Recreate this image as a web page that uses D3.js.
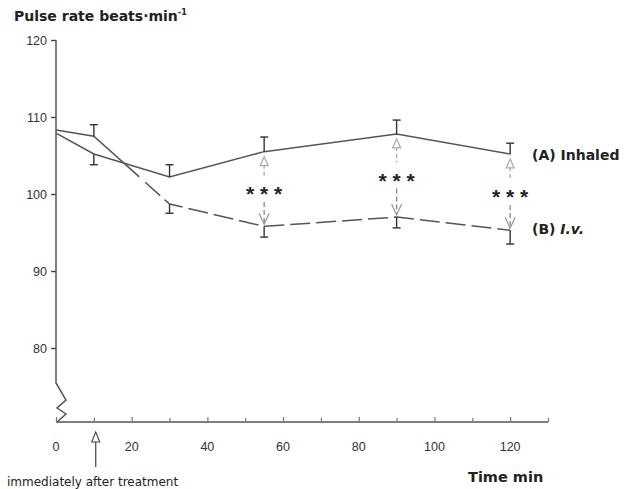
<!DOCTYPE html>
<html>
<head>
<meta charset="utf-8">
<script src="https://cdn.jsdelivr.net/npm/d3@7"></script>
<style>
  html, body { margin: 0; padding: 0; background: #fff; }
  svg { display: block; font-family: "Liberation Sans", Arial, Helvetica, sans-serif; }
  .bold { font-family: "DejaVu Sans", sans-serif; font-weight: bold; }
</style>
</head>
<body>
<svg id="chart" width="633" height="489"></svg>
<script>
// ---- data ----
const times = [0, 10, 30, 55, 90, 120];
const inhaled = [107.9, 105.2, 102.2, 105.5, 107.8, 105.2];
const inhaledSE = [0, 1.4, 1.6, 1.9, 1.8, 1.4];
const inhaledSEdir = [0, -1, 1, 1, 1, 1];
const iv = [108.3, 107.5, 98.7, 95.8, 97.0, 95.3];
const ivSE = [0, 1.5, 1.2, 1.4, 1.4, 1.8];
const ivSEdir = [0, 1, -1, -1, -1, -1];
const sigTimes = [55, 90, 120];
const sigLabel = "***";
const yTicks = [80, 90, 100, 110, 120];
const xTicksMajor = [0, 20, 40, 60, 80, 100, 120];
const xTicksMinor = [10, 30, 50, 70, 90, 110, 130];
const treatmentTime = 10.5;

const svg = d3.select("#chart");
const x = d3.scaleLinear().domain([0, 130]).range([56, 548]);
const y = d3.scaleLinear().domain([80, 120]).range([348, 40]);
const axisY = 422;
const lineCol = "#555";

// ---- Y axis ----
const yAxis = d3.axisLeft(y).tickValues(yTicks).tickSize(5).tickPadding(4);
const gy = svg.append("g").attr("transform", `translate(${x(0)},0)`).call(yAxis);
gy.select(".domain").remove();
gy.selectAll(".tick line").attr("stroke", "#444").attr("stroke-width", 1.4);
gy.selectAll(".tick text").attr("font-size", 12.5).attr("fill", "#333");

// axis line with break zigzag
const x0 = x(0);
svg.append("path")
  .attr("d", `M${x0},${y(120)}L${x0},383L${x0+10},400L${x0+1},408L${x0+10},414L${x0+1},${axisY}`)
  .attr("fill", "none").attr("stroke", "#555").attr("stroke-width", 1.5);

// ---- X axis ----
const xAxis = d3.axisTop(x).tickValues(xTicksMajor).tickSize(5).tickFormat(() => "");
const gx = svg.append("g").attr("transform", `translate(0,${axisY})`).call(xAxis);
gx.select(".domain").attr("stroke", "#555").attr("stroke-width", 1.5).attr("d", `M${x(0)},0H${x(130)}`);
gx.selectAll(".tick line").attr("stroke", "#777").attr("stroke-width", 1.2);
const xAxisMinor = d3.axisTop(x).tickValues(xTicksMinor).tickSize(4).tickFormat(() => "");
const gx2 = svg.append("g").attr("transform", `translate(0,${axisY})`).call(xAxisMinor);
gx2.select(".domain").remove();
gx2.selectAll(".tick line").attr("stroke", "#777").attr("stroke-width", 1.2);
svg.append("g").selectAll("text").data(xTicksMajor).join("text")
  .attr("x", d => x(d)).attr("y", 451)
  .attr("text-anchor", "middle").attr("font-size", 12.5).attr("fill", "#333")
  .text(d => d);

// ---- lines ----
const pts = (vals) => times.map((t, i) => [x(t), y(vals[i])]);
const lineGen = d3.line();
const aPts = pts(inhaled), bPts = pts(iv);

svg.append("path").attr("d", lineGen(aPts))
  .attr("fill", "none").attr("stroke", lineCol).attr("stroke-width", 1.5);

// B: solid start, then long dashes
let soloLen = 0;
{
  const [p0, p1, p2] = bPts;
  soloLen += Math.hypot(p1[0]-p0[0], p1[1]-p0[1]);
  const seg = Math.hypot(p2[0]-p1[0], p2[1]-p1[1]);
  soloLen += seg * 0.6;
}
const dashes = [soloLen.toFixed(1), 8];
for (let i = 0; i < 40; i++) dashes.push(20, 6);
svg.append("path").attr("d", lineGen(bPts))
  .attr("fill", "none").attr("stroke", lineCol).attr("stroke-width", 1.5)
  .attr("stroke-dasharray", dashes.join(","));

// ---- error bars ----
function errBars(vals, se, dir) {
  const g = svg.append("g").attr("stroke", "#333").attr("stroke-width", 1.4);
  times.forEach((t, i) => {
    if (!se[i]) return;
    const cx = x(t), y1 = y(vals[i]), y2 = y(vals[i] + dir[i] * se[i]);
    g.append("line").attr("x1", cx).attr("x2", cx).attr("y1", y1).attr("y2", y2);
    g.append("line").attr("x1", cx - 4).attr("x2", cx + 4).attr("y1", y2).attr("y2", y2);
  });
}
errBars(inhaled, inhaledSE, inhaledSEdir);
errBars(iv, ivSE, ivSEdir);

// ---- significance arrows ----
sigTimes.forEach(t => {
  const i = times.indexOf(t);
  const cx = x(t);
  const ya = y(inhaled[i]), yb = y(iv[i]);
  const mid = (ya + yb) / 2;
  const g = svg.append("g");
  // up arrow (to A)
  const tipA = ya + 5;
  g.append("line").attr("x1", cx).attr("x2", cx).attr("y1", tipA + 8).attr("y2", mid - 13)
    .attr("stroke", "#aaa").attr("stroke-width", 1.3).attr("stroke-dasharray", "4,3");
  g.append("path").attr("d", `M${cx},${tipA}L${cx-4},${tipA+9}L${cx+4},${tipA+9}Z`)
    .attr("fill", "#fff").attr("stroke", "#aaa").attr("stroke-width", 1.2);
  // down arrow (to B)
  const tipB = yb - 2;
  g.append("line").attr("x1", cx).attr("x2", cx).attr("y1", mid + 13).attr("y2", tipB)
    .attr("stroke", "#888").attr("stroke-width", 1.3).attr("stroke-dasharray", "5,3");
  g.append("path").attr("d", `M${cx-5},${tipB-11}L${cx},${tipB}L${cx+5},${tipB-11}`)
    .attr("fill", "none").attr("stroke", "#999").attr("stroke-width", 1.2);
  // stars
  g.append("text").attr("x", cx).attr("y", mid + 12)
    .attr("text-anchor", "middle").attr("font-size", 21).attr("font-weight", "bold")
    .attr("fill", "#222").text(sigLabel.split("").join(" "));
});

// ---- labels ----
svg.append("text").attr("class", "bold").attr("x", 532).attr("y", y(inhaled[5]) + 6)
  .attr("font-size", 14).attr("fill", "#222")
  .text("(A) Inhaled");
const lb = svg.append("text").attr("class", "bold").attr("x", 532).attr("y", y(iv[5]) + 4)
  .attr("font-size", 14).attr("fill", "#222");
lb.append("tspan").text("(B) ");
lb.append("tspan").attr("font-style", "italic").text("I.v.");

const title = svg.append("text").attr("class", "bold").attr("x", 14).attr("y", 21)
  .attr("font-size", 14).attr("fill", "#222");
title.append("tspan").text("Pulse rate beats·min");
title.append("tspan").attr("font-size", 8).attr("dy", -6).text("-1");

svg.append("text").attr("class", "bold").attr("x", 468).attr("y", 482)
  .attr("font-size", 14.5).attr("fill", "#222")
  .text("Time min");

// treatment arrow
const tx = x(treatmentTime);
svg.append("path").attr("d", `M${tx},432L${tx-4},442L${tx+4},442Z`)
  .attr("fill", "#fff").attr("stroke", "#444").attr("stroke-width", 1.1);
svg.append("line").attr("x1", tx).attr("x2", tx).attr("y1", 442).attr("y2", 467)
  .attr("stroke", "#444").attr("stroke-width", 1.2);
svg.append("text").attr("x", 7).attr("y", 486)
  .attr("font-family", "DejaVu Sans, sans-serif")
  .attr("font-size", 12).attr("fill", "#222")
  .text("immediately after treatment");
</script>
</body>
</html>
